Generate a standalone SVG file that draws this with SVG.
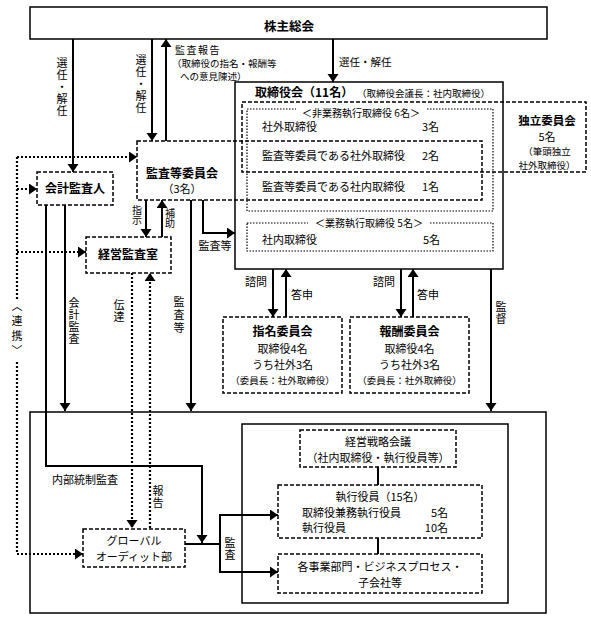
<svg xmlns="http://www.w3.org/2000/svg" width="591" height="620" viewBox="0 0 591 620">
<style>
.solid{fill:none;stroke:#000;stroke-width:1.5}
.dash{fill:none;stroke:#000;stroke-width:1.5;stroke-dasharray:4 2}
.dotb{fill:none;stroke:#000;stroke-width:1.2;stroke-dasharray:1.5 1.5}
.ln{fill:none;stroke:#000;stroke-width:2}
.dt{fill:none;stroke:#000;stroke-width:2.2;stroke-dasharray:2 2}
text{font-family:"Noto Sans CJK JP","Noto Sans CJK SC",sans-serif;font-size:11px;fill:#000}
.b{font-weight:bold;font-size:12px}
.s{font-size:9.5px}
.m{text-anchor:middle}
.e{text-anchor:end}
.v{writing-mode:vertical-rl;letter-spacing:1px}
</style>
<defs>
<marker id="ah" markerUnits="userSpaceOnUse" markerWidth="11" markerHeight="12" refX="8" refY="5.5" orient="auto">
<path d="M0,0 L8,5.5 L0,11 z" fill="#000"/>
</marker>
</defs>

<g id="shareholders">
<rect x="30" y="7" width="517" height="32" class="solid"/>
<text x="289" y="31" class="b m" style="font-size:12.5px">株主総会</text>
</g>

<g id="board">
<rect x="235" y="82" width="268" height="187" class="solid"/>
<text x="255" y="97" class="b">取締役会（11名）</text>
<text x="357" y="97" class="s">（取締役会議長：社内取締役）</text>
<rect x="247" y="109" width="246" height="102" class="dotb"/>
<rect x="296" y="105" width="130" height="10" fill="#fff"/>
<text x="361" y="117" class="m" style="font-size:10px">＜非業務執行取締役 6名＞</text>
<text x="262" y="131">社外取締役</text>
<text x="422" y="131">3名</text>
<text x="262" y="160">監査等委員である社外取締役</text>
<text x="422" y="160">2名</text>
<text x="262" y="191">監査等委員である社内取締役</text>
<text x="422" y="191">1名</text>
<rect x="247" y="223" width="246" height="28" class="dotb"/>
<rect x="308" y="218" width="122" height="10" fill="#fff"/>
<text x="369" y="227" class="m" style="font-size:10px">＜業務執行取締役 5名＞</text>
<text x="262" y="244">社内取締役</text>
<text x="423" y="244">5名</text>
</g>

<g id="independent">
<rect x="242" y="102" width="344" height="70" class="dash"/>
<text x="547" y="125" class="b m" style="font-size:11.5px">独立委員会</text>
<text x="547" y="141" class="m">5名</text>
<text x="547" y="155" class="m" style="font-size:9.5px">（筆頭独立</text>
<text x="547" y="168.5" class="m" style="font-size:9.5px">社外取締役）</text>
</g>

<g id="audit-committee">
<rect x="137" y="141" width="345" height="59" class="dash"/>
<text x="182" y="178" class="b m">監査等委員会</text>
<text x="182" y="193" class="m">（3名）</text>
</g>

<g id="accounting-auditor">
<rect x="37" y="172" width="76" height="33" class="dash"/>
<text x="75" y="193" class="b m">会計監査人</text>
</g>

<g id="mgmt-audit-office">
<rect x="86" y="237" width="85" height="36" class="dash"/>
<text x="128" y="259" class="b m">経営監査室</text>
</g>

<g id="nomination">
<rect x="223" y="317" width="119" height="76" class="dash"/>
<text x="282.5" y="336" class="b m">指名委員会</text>
<text x="282.5" y="353" class="m">取締役4名</text>
<text x="282.5" y="369" class="m">うち社外3名</text>
<text x="282.5" y="384" class="m s">（委員長：社外取締役）</text>
</g>

<g id="compensation">
<rect x="350" y="317" width="119" height="76" class="dash"/>
<text x="409.5" y="336" class="b m">報酬委員会</text>
<text x="409.5" y="353" class="m">取締役4名</text>
<text x="409.5" y="369" class="m">うち社外3名</text>
<text x="409.5" y="384" class="m s">（委員長：社外取締役）</text>
</g>

<g id="company">
<rect x="30" y="412" width="516" height="201" class="solid"/>
</g>

<g id="execution">
<rect x="242" y="424" width="266" height="179" class="solid"/>
</g>

<g id="strategy-meeting">
<rect x="300" y="430" width="156" height="37" class="dash"/>
<text x="378" y="446" class="m">経営戦略会議</text>
<text x="378" y="462" class="m">（社内取締役・執行役員等）</text>
</g>

<g id="officers">
<rect x="278" y="485" width="204" height="53" class="dash"/>
<text x="380" y="501" class="m">執行役員（15名）</text>
<text x="302" y="517">取締役兼務執行役員</text>
<text x="448" y="517" class="e">5名</text>
<text x="302" y="532">執行役員</text>
<text x="448" y="532" class="e">10名</text>
</g>

<g id="business">
<rect x="278" y="554" width="204" height="39" class="dash"/>
<text x="380" y="571" class="m">各事業部門・ビジネスプロセス・</text>
<text x="380" y="587" class="m">子会社等</text>
</g>

<g id="global-audit">
<rect x="83" y="529" width="102" height="38" class="dash"/>
<text x="134" y="545" class="m">グローバル</text>
<text x="134" y="561" class="m">オーディット部</text>
</g>

<g id="connectors">
<path d="M73,39 V172" class="ln" marker-end="url(#ah)"/>
<path d="M152,39 V141" class="ln" marker-end="url(#ah)"/>
<path d="M166,141 V39" class="ln" marker-end="url(#ah)"/>
<path d="M333,39 V82" class="ln" marker-end="url(#ah)"/>
<path d="M146,200 V237" class="ln" marker-end="url(#ah)"/>
<path d="M162,237 V200" class="ln" marker-end="url(#ah)"/>
<path d="M203,200 V233 H235" class="ln" marker-end="url(#ah)"/>
<path d="M191,200 V411" class="ln" marker-end="url(#ah)"/>
<path d="M65,205 V411" class="ln" marker-end="url(#ah)"/>
<path d="M46,205 V466 H202 V543" class="ln" marker-end="url(#ah)"/>
<path d="M185,544 H220" class="ln"/>
<path d="M220,544 V515 H278" class="ln" marker-end="url(#ah)"/>
<path d="M220,544 V572 H278" class="ln" marker-end="url(#ah)"/>
<path d="M491,269 V411" class="ln" marker-end="url(#ah)"/>
<path d="M273,269 V317" class="ln" marker-end="url(#ah)"/>
<path d="M286,317 V269" class="ln" marker-end="url(#ah)"/>
<path d="M401,269 V317" class="ln" marker-end="url(#ah)"/>
<path d="M413,317 V269" class="ln" marker-end="url(#ah)"/>
<path d="M378,467 V485" class="ln"/>
<path d="M378,538 V554" class="ln"/>
<path d="M132,273 V528" class="dt" marker-end="url(#ah)"/>
<path d="M150,528 V273" class="dt" marker-end="url(#ah)"/>
<path d="M17,157 V300" class="dt"/>
<path d="M17,362 V554" class="dt"/>
<path d="M17,157 H137" class="dt" marker-end="url(#ah)"/>
<path d="M17,189 H37" class="dt" marker-end="url(#ah)"/>
<path d="M17,252 H86" class="dt" marker-end="url(#ah)"/>
<path d="M17,554 H83" class="dt" marker-end="url(#ah)"/>
</g>

<g id="labels">
<text x="62" y="57" class="v">選任・解任</text>
<text x="141" y="54" class="v">選任・解任</text>
<text x="175" y="54" style="font-size:10px;letter-spacing:1.5px">監査報告</text>
<text x="172" y="67" style="font-size:9.5px">（取締役の指名・報酬等</text>
<text x="180" y="80" style="font-size:9.5px">への意見陳述）</text>
<text x="339" y="66" style="font-size:10.5px">選任・解任</text>
<text x="137" y="205" class="v" style="font-size:10px;letter-spacing:0.5px">指示</text>
<text x="170" y="208" class="v" style="font-size:10px;letter-spacing:0.5px">補助</text>
<text x="215" y="250" class="m">監査等</text>
<text x="179" y="296" class="v" style="letter-spacing:2px">監査等</text>
<text x="74" y="297" class="v">会計監査</text>
<text x="119" y="299" class="v">伝達</text>
<text x="17" y="300" class="v" style="letter-spacing:4px">〈連携〉</text>
<text x="256" y="286" class="m">諮問</text>
<text x="302" y="299" class="m">答申</text>
<text x="384" y="286" class="m">諮問</text>
<text x="428" y="299" class="m">答申</text>
<text x="501" y="301" class="v">監督</text>
<text x="52" y="484">内部統制監査</text>
<text x="158" y="485" class="v">報告</text>
<text x="230" y="537" class="v">監査</text>
</g>
</svg>
